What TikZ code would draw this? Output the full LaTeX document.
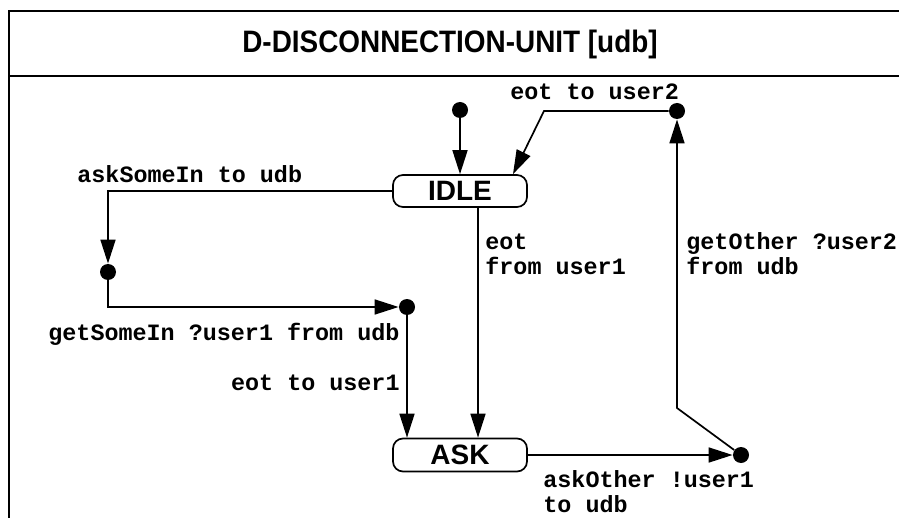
\documentclass[tikz,border=0pt]{standalone}
\usepackage{fontspec}
\setsansfont{Liberation Sans}
\setmonofont{Liberation Mono}
\newfontfamily\titlefont{Liberation Sans}[FakeStretch=0.9]
\usepackage{tikz}
\usetikzlibrary{arrows.meta}
\tikzset{
  statebox/.style={
    draw,
    rounded corners=5pt,
    line width=0.85pt,
    minimum width=67pt,
    minimum height=16pt,
    inner sep=0pt,
    font=\sffamily\bfseries\fontsize{14}{14}\selectfont
  },
  junction/.style={circle,fill,inner sep=0pt,minimum size=8pt},
  transarrow/.style={-{Triangle[length=12pt,width=7.5pt]},line width=0.85pt},
  translabel/.style={
    inner sep=0pt,
    align=left,
    font=\ttfamily\bfseries\fontsize{11.7}{12.5}\selectfont
  }
}

\begin{document}
\begin{tikzpicture}[x=0.5pt,y=-0.5pt]
    \useasboundingbox (0,0) rectangle (899,518);
    % frame and title
    \draw[line width=1.1pt] (899,11) -- (9,11) -- (9,518);
    \draw[line width=1.1pt] (9,76) -- (899,76);
    \node[font=\titlefont\bfseries\fontsize{15.5}{15.5}\selectfont] (title) at (450,44) {D-DISCONNECTION-UNIT [udb]};

    % states
    \node[statebox] (idle) at (460,191) {IDLE};
    \node[statebox,minimum height=16.5pt] (ask) at (460,455) {ASK};

    % junction points
    \node[junction] (init) at (460,110) {};
    \node[junction] (toUser2) at (677,111) {};
    \node[junction] (askIn) at (108,272) {};
    \node[junction] (getIn) at (407,307) {};
    \node[junction] (askOth) at (741,455) {};

    % transitions
    \draw[transarrow] (init) -- (idle);
    \draw[transarrow] (toUser2) -- ++(-133,0) -- ([xshift=26.5pt]idle.north);
    \draw[transarrow] (idle.west) -| (askIn);
    \draw[transarrow] (askIn) |- (getIn);
    \draw[transarrow] (getIn) -- (getIn |- ask.north);
    \draw[transarrow] ([xshift=9pt]idle.south) -- ([xshift=9pt]ask.north);
    \draw[transarrow] (ask.east) -- (askOth);
    \draw[transarrow] (askOth) -- ++(-64,-47) -- (toUser2);

    % labels
    \node[translabel,anchor=base west] (lblEotU2) at (510,100) {eot to user2};
    \node[translabel,anchor=base west] (lblAskIn) at (77,183) {askSomeIn to udb};
    \node[translabel,anchor=base west] (lblGetIn) at (48,340) {getSomeIn ?user1 from udb};
    \node[translabel,anchor=base east] (lblEotU1) at (400,390) {eot to user1};
    \node[translabel,anchor=base west] (lblEotFrom) at (485,274) {eot\\from user1};
    \node[translabel,anchor=base west] (lblGetOth) at (686,274) {getOther ?user2\\from udb};
    \node[translabel,anchor=base west] (lblAskOth) at (543,512) {askOther !user1\\to udb};
\end{tikzpicture}
\end{document}
